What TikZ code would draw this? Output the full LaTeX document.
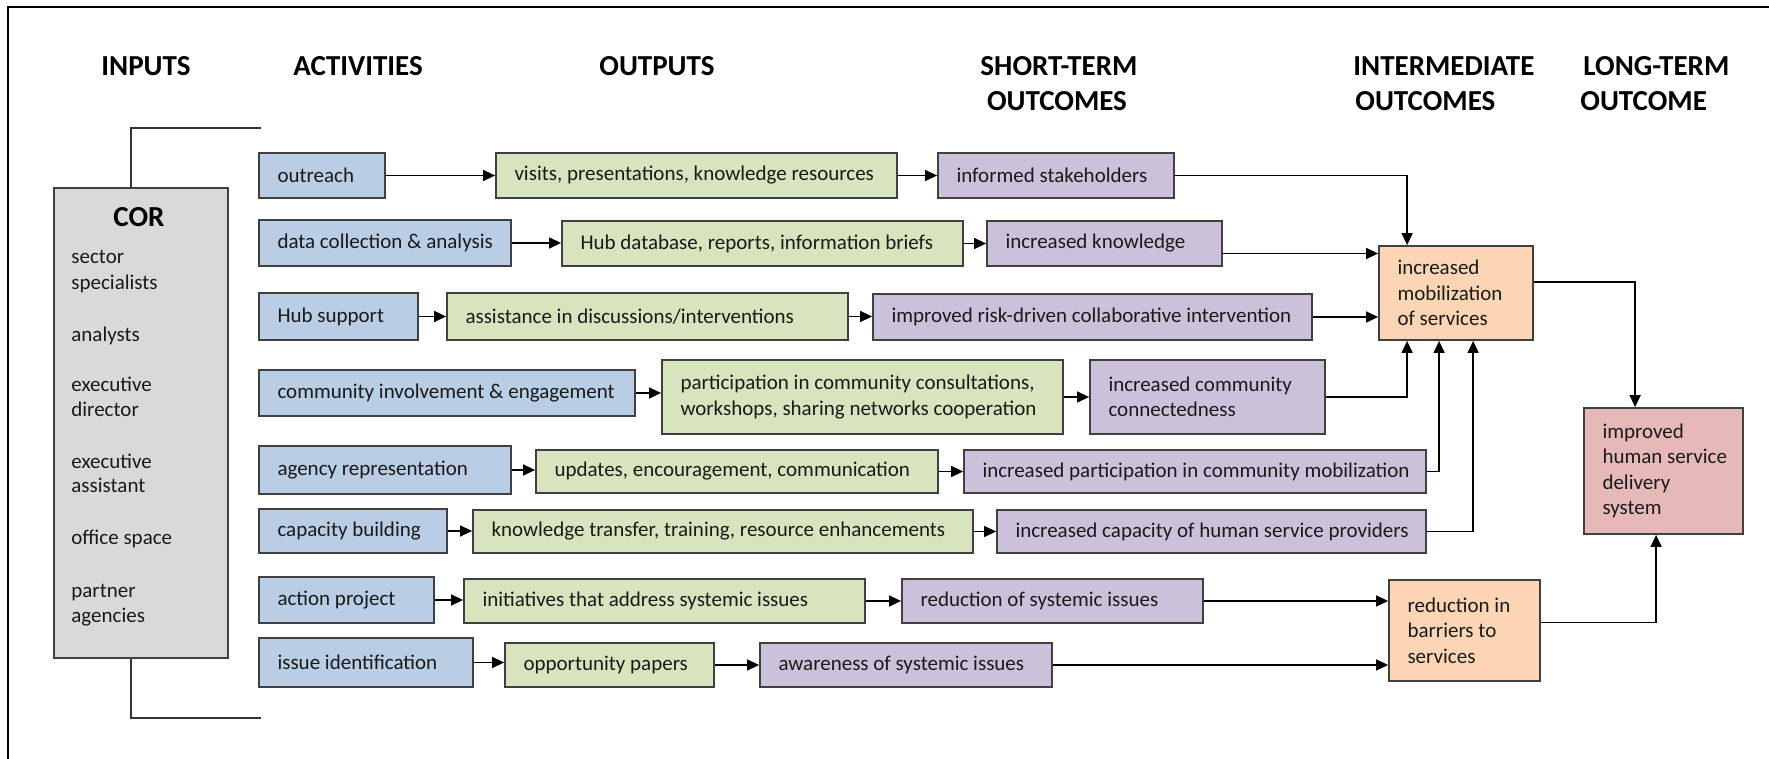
\documentclass[tikz,border=0pt]{standalone}
\usepackage{fontspec}
\setmainfont{Carlito}
\usetikzlibrary{arrows.meta,calc}
\definecolor{cblue}{HTML}{B9CDE5}
\definecolor{cgreen}{HTML}{D7E4BD}
\definecolor{cpurple}{HTML}{CCC1DA}
\definecolor{corange}{HTML}{FCD5B5}
\definecolor{cpink}{HTML}{E6B9B8}
\definecolor{cgray}{HTML}{D9D9D9}
\definecolor{cedge}{HTML}{404040}
\definecolor{ctext}{HTML}{1A1A1A}
\tikzset{
  boxst/.style={draw=cedge, line width=0.9pt, inner sep=0pt, rectangle},
  boxtext/.style={anchor=west, inner sep=0pt, align=left, text=ctext,
    font=\fontsize{10.5}{12.75}\selectfont},
  hdr/.style={inner sep=0pt, text=black, font=\bfseries\fontsize{14.5}{17}\selectfont},
  itemtext/.style={anchor=base west, inner sep=0pt, text=ctext,
    font=\fontsize{10.5}{12.75}\selectfont},
  arr/.style={-{Triangle[length=6pt,width=5.5pt]}, line width=0.7pt, draw=black},
  ln/.style={line width=0.7pt, draw=black!80},
  frame/.style={line width=1.2pt, draw=black},
}
\newcommand\mkbox[7]{%
  \node[boxst, fill=#6, minimum width={(#4-#2)*0.5pt}, minimum height={(#5-#3)*0.5pt}]
    (#1) at ({(#2+#4)/2},{(#3+#5)/2}) {};
  \node[boxtext] (#1t) at ([xshift=9.5pt]#1.west) {#7};}
\begin{document}
\begin{tikzpicture}[x=0.5pt, y=-0.5pt]
\useasboundingbox (0,0) rectangle (1769,759);
\fill[white] (0,0) rectangle (1769,759);
% frame
\draw[frame] (1769,7) -- (8,7) -- (8,759);

% headers
\node[hdr] (h1) at (146,66) {INPUTS};
\node[hdr] (h2) at (358,66) {ACTIVITIES};
\node[hdr] (h3) at (657,66) {OUTPUTS};
\node[hdr] (h4a) at (1059,66) {SHORT-TERM};
\node[hdr] (h4b) at (1057,101) {OUTCOMES};
\node[hdr, anchor=west] (h5a) at (1353,66) {INTERMEDIATE};
\node[hdr, anchor=west] (h5b) at (1355,101) {OUTCOMES};
\node[hdr, anchor=west] (h6a) at (1583,66) {LONG-TERM};
\node[hdr, anchor=west] (h6b) at (1580,101) {OUTCOME};

% inputs box
\node[boxst, fill=cgray, minimum width=87pt, minimum height=235pt] (cor) at (141,423) {};
\node[hdr] (cort) at (139,217) {COR};
\node[itemtext] (i1) at (71,264) {sector};
\node[itemtext] (i2) at (71,290) {specialists};
\node[itemtext] (i3) at (71,342) {analysts};
\node[itemtext] (i4) at (71,392) {executive};
\node[itemtext] (i5) at (71,417) {director};
\node[itemtext] (i6) at (71,468) {executive};
\node[itemtext] (i7) at (71,493) {assistant};
\node[itemtext] (i8) at (71,545) {office space};
\node[itemtext] (i9) at (71,597) {partner};
\node[itemtext] (i10) at (71,622) {agencies};

% bracket
\coordinate (bx) at (131,0);
\coordinate (bt) at (261,128);
\coordinate (bb) at (261,718);
\draw[ln] (cor.north -| bx) |- (bt);
\draw[ln] (cor.south -| bx) |- (bb);

% activities
\mkbox{a1}{259}{153}{385}{198}{cblue}{outreach}
\mkbox{a2}{259}{220}{511}{266}{cblue}{data collection \& analysis}
\mkbox{a3}{259}{293}{418}{340}{cblue}{Hub support}
\mkbox{a4}{259}{370}{635}{416}{cblue}{community involvement \& engagement}
\mkbox{a5}{259}{446}{511}{494}{cblue}{agency representation}
\mkbox{a6}{259}{509}{447}{553}{cblue}{capacity building}
\mkbox{a7}{259}{577}{434}{623}{cblue}{action project}
\mkbox{a8}{259}{638}{473}{687}{cblue}{issue identification}

% outputs
\mkbox{o1}{496}{153}{897}{198}{cgreen}{visits, presentations, knowledge resources}
\mkbox{o2}{562}{221}{963}{266}{cgreen}{Hub database, reports, information briefs}
\mkbox{o3}{447}{293}{848}{340}{cgreen}{assistance in discussions/interventions}
\mkbox{o4}{662}{360}{1063}{434}{cgreen}{participation in community consultations,\\workshops, sharing networks cooperation}
\mkbox{o5}{536}{450}{938}{493}{cgreen}{updates, encouragement, communication}
\mkbox{o6}{473}{510}{973}{553}{cgreen}{knowledge transfer, training, resource enhancements}
\mkbox{o7}{464}{579}{865}{623}{cgreen}{initiatives that address systemic issues}
\mkbox{o8}{505}{643}{714}{687}{cgreen}{opportunity papers}

% short-term outcomes
\mkbox{s1}{938}{153}{1174}{198}{cpurple}{informed stakeholders}
\mkbox{s2}{987}{221}{1222}{266}{cpurple}{increased knowledge}
\mkbox{s3}{873}{294}{1312}{340}{cpurple}{improved risk-driven collaborative intervention}
\mkbox{s4}{1090}{360}{1325}{434}{cpurple}{increased community\\connectedness}
\mkbox{s5}{964}{450}{1426}{493}{cpurple}{increased participation in community mobilization}
\mkbox{s6}{997}{510}{1426}{553}{cpurple}{increased capacity of human service providers}
\mkbox{s7}{902}{579}{1203}{623}{cpurple}{reduction of systemic issues}
\mkbox{s8}{760}{643}{1052}{687}{cpurple}{awareness of systemic issues}

% intermediate and long-term
\mkbox{mob}{1379}{246}{1533}{340}{corange}{increased\\mobilization\\of services}
\mkbox{bar}{1389}{580}{1540}{681}{corange}{reduction in\\barriers to\\services}
\mkbox{imp}{1584}{408}{1743}{534}{cpink}{improved\\human service\\delivery\\system}

% activity -> output -> short-term
\foreach \i in {1,...,8}{
  \draw[arr] (a\i.east) -- (a\i.east -| o\i.west);
  \draw[arr] (o\i.east) -- (o\i.east -| s\i.west);
}

% short-term -> intermediate
\draw[arr] (s1.east) -| ($(mob.north west)+(29,0)$);
\coordinate (k2) at ($(s2.east)+(0,10)$);
\draw[arr] (k2) -- (k2 -| mob.west);
\draw[arr] (s3.east) -- (s3.east -| mob.west);
\draw[arr] (s4.east) -| ($(mob.south west)+(29,0)$);
\draw[arr] (s5.east) -| ($(mob.south west)+(61,0)$);
\draw[arr] (s6.east) -| ($(mob.south west)+(95,0)$);
\draw[arr] (s7.east) -- (s7.east -| bar.west);
\draw[arr] (s8.east) -- (s8.east -| bar.west);

% intermediate -> long-term
\coordinate (m2) at ($(mob.east)+(0,-11)$);
\draw[arr] (m2) -| ($(imp.north west)+(52,0)$);
\coordinate (b2) at ($(bar.east)+(0,-8)$);
\draw[arr] (b2) -| ($(imp.south west)+(73,0)$);
\end{tikzpicture}
\end{document}
